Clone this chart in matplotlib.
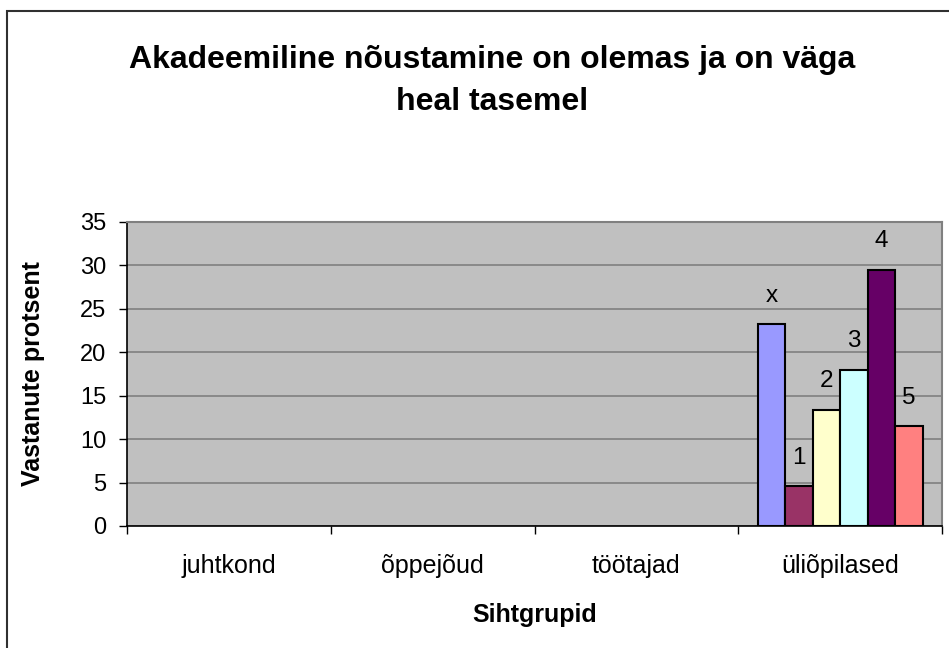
import numpy as np
import matplotlib
matplotlib.use("Agg")
import matplotlib.pyplot as plt
from matplotlib.patches import Rectangle

plt.rcParams['font.family'] = ['Liberation Sans', 'DejaVu Sans']

# ---- DATA
categories = ["juhtkond", "õppejõud", "töötajad", "üliõpilased"]
series_names = ["x", "1", "2", "3", "4", "5"]
# only the last category has values
values = [23.2, 4.6, 13.4, 18.0, 29.5, 11.5]
colors = ["#9999FF", "#993366", "#FFFFCC", "#CCFFFF", "#660066", "#FF8080"]

title = "Akadeemiline nõustamine on olemas ja on väga\nheal tasemel"
xlabel = "Sihtgrupid"
ylabel = "Vastanute protsent"

# ---- FIGURE
fig = plt.figure(figsize=(9.49, 6.48), dpi=100)
ax = fig.add_axes([127/949, 1-526/648, 815/949, 304/648])
ax.set_facecolor("#C0C0C0")

nbar = len(values)
w = 0.135
cat_idx = len(categories) - 1
for i in range(nbar):
    xpos = cat_idx + 0.5 + (i - (nbar-1)/2.) * w
    ax.bar(xpos, values[i], width=w, color=colors[i], edgecolor="black", linewidth=1.5, zorder=3)
    ax.text(xpos, values[i] + 2.0, series_names[i], ha="center", va="bottom", fontsize=17.5, zorder=4)

ax.set_xlim(0, len(categories))
ax.set_ylim(0, 35)
ax.set_yticks(np.arange(0, 36, 5))
ax.set_xticks(np.arange(0, len(categories)+1))
ax.set_xticklabels([])
ax.set_xticks(np.arange(len(categories)) + 0.5, minor=True)
ax.set_xticklabels(categories, minor=True, fontsize=18)
ax.tick_params(axis="x", which="minor", length=0, pad=20)
ax.tick_params(axis="x", which="major", length=6, width=1, direction="out", color="black")
ax.tick_params(axis="y", length=6, width=1, direction="out", labelsize=17, pad=9)

ax.yaxis.grid(True, color="#808080", linewidth=1.2, zorder=1)
ax.set_axisbelow(True)
for s in ["top", "right"]:
    ax.spines[s].set_color("#808080")
    ax.spines[s].set_linewidth(1.5)
for s in ["left", "bottom"]:
    ax.spines[s].set_color("black")
    ax.spines[s].set_linewidth(1.2)

ax.set_xlabel(xlabel, fontsize=18, fontweight="bold", labelpad=18)
ax.set_ylabel(ylabel, fontsize=18, fontweight="bold", labelpad=25)

fig.text(492/949, 1-81/648, title, ha="center", va="center", fontsize=23,
         fontweight="bold", linespacing=1.5)

# chart border (only top/left visible)
fig.patches.append(Rectangle((7/949, -0.1), 1.2, 1-11/648+0.1, transform=fig.transFigure,
                             fill=False, edgecolor="#303030", linewidth=1.5))

fig.savefig("out.png", dpi=100)
